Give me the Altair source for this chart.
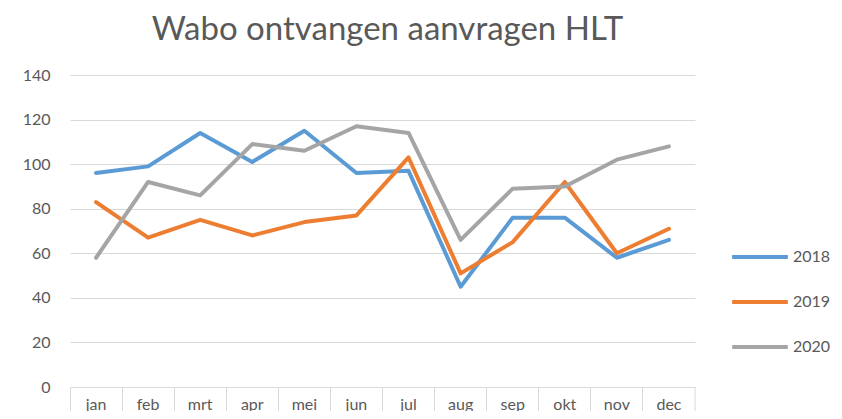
import altair as alt
import pandas as pd

months = ["jan", "feb", "mrt", "apr", "mei", "jun", "jul", "aug", "sep", "okt", "nov", "dec"]
years = ["2018", "2019", "2020"]
v2018 = [96, 99, 114, 101, 115, 96, 97, 45, 76, 76, 58, 66]
v2019 = [83, 67, 75, 68, 74, 77, 103, 51, 65, 92, 60, 71]
v2020 = [58, 92, 86, 109, 106, 117, 114, 66, 89, 90, 102, 108]
colors = ["#5B9BD5", "#ED7D31", "#A5A5A5"]

rows = []
for yr, vals in zip(years, [v2018, v2019, v2020]):
    for m, v in zip(months, vals):
        rows.append({"maand": m, "jaar": yr, "aantal": v})
df = pd.DataFrame(rows)

FONT = "Lato"
TXT = "#595959"
W, H = 625, 312

xscale = alt.Scale(type="band", domain=months, paddingInner=0, paddingOuter=0)

lines = alt.Chart(df).mark_line(strokeWidth=4, strokeCap="round", strokeJoin="round").encode(
    x=alt.X("maand:N", scale=xscale, sort=months,
            axis=alt.Axis(title=None, labelAngle=0, domain=True, domainColor="#d9d9d9",
                          ticks=True, tickColor="#d9d9d9", tickSize=32,
                          bandPosition=0, labelPadding=-23, labelFont=FONT, labelFontSize=16,
                          labelColor=TXT, grid=False, labelBaseline="top")),
    y=alt.Y("aantal:Q", scale=alt.Scale(domain=[0, 140]),
            axis=alt.Axis(title=None, values=list(range(0, 141, 20)), domain=False, ticks=False,
                          gridColor="#d9d9d9", gridWidth=1, labelPadding=20, labelFont=FONT,
                          labelFontSize=16, labelColor=TXT)),
    color=alt.Color("jaar:N", scale=alt.Scale(domain=years, range=colors),
                    legend=alt.Legend(title=None, orient="none", legendX=660, legendY=152,
                                      symbolType="stroke", symbolStrokeWidth=4, symbolSize=3100,
                                      labelFont=FONT, labelFontSize=16, labelColor=TXT,
                                      rowPadding=7, labelOffset=3)),
)

edge = alt.Chart(pd.DataFrame({"e": [0]})).mark_rule(color="#d9d9d9", strokeWidth=1).encode(
    x=alt.value(W), y=alt.value(H), y2=alt.value(H + 32)
)

chart = alt.layer(edge, lines).properties(
    width=W, height=H,
    background="white",
    title=alt.TitleParams("Wabo ontvangen aanvragen HLT", font=FONT, fontSize=33,
                          fontWeight="normal", color=TXT, anchor="middle", offset=20, dx=5),
    padding={"left": 62, "top": 67, "right": 139, "bottom": 24},
    autosize=alt.AutoSizeParams(type="none"),
).configure_view(stroke="transparent", strokeWidth=0)

chart.save("out.html", embed_options={"renderer": "svg", "actions": False})
